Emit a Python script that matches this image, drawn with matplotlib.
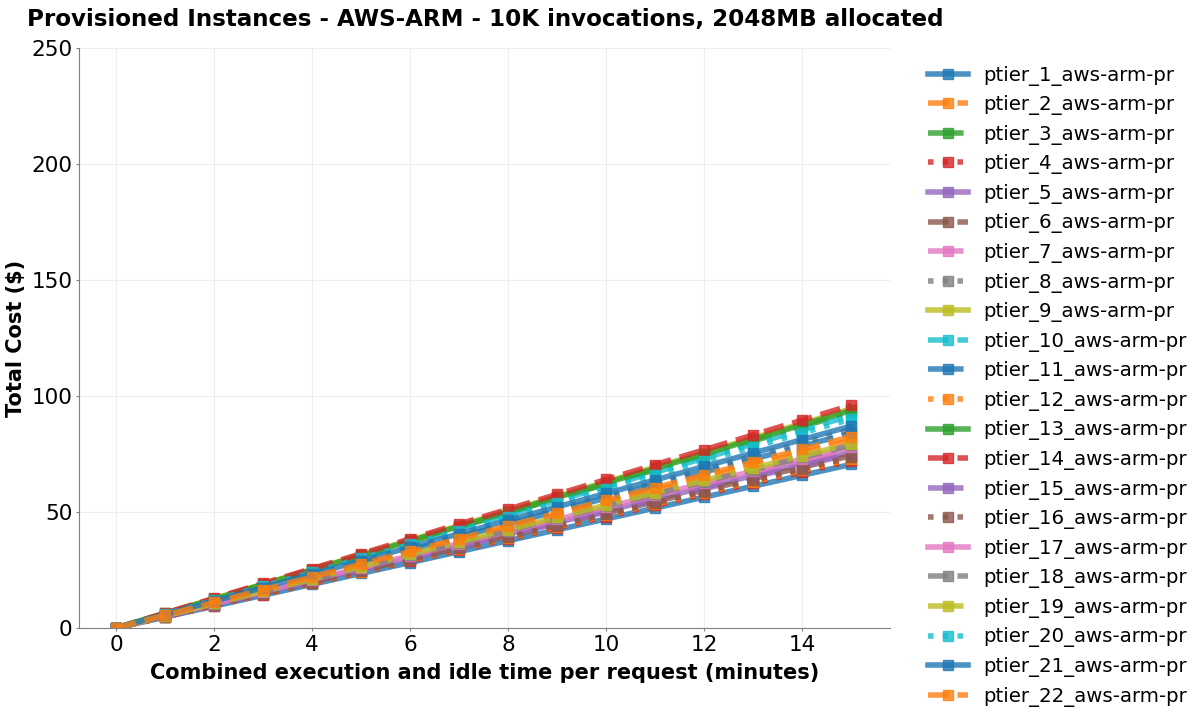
import matplotlib
matplotlib.use("Agg")
import matplotlib.pyplot as plt

# execution + idle time per request (minutes)
minutes = [0, 1, 2, 3, 4, 5, 6, 7, 8, 9, 10, 11, 12, 13, 14, 15]

tier_names = [f"ptier_{i}_aws-arm-pr" for i in range(1, 23)]

# total cost ($) per tier
tier_costs = [
    [0, 4.7, 9.4, 14.1, 18.8, 23.5, 28.2, 32.9, 37.6, 42.3, 47.0, 51.7, 56.4, 61.1, 65.8, 70.5],
    [0, 5.4, 10.8, 16.2, 21.6, 27.0, 32.4, 37.8, 43.2, 48.6, 54.0, 59.4, 64.8, 70.2, 75.6, 81.0],
    [0, 6.2, 12.4, 18.6, 24.8, 31.0, 37.2, 43.4, 49.6, 55.8, 62.0, 68.2, 74.4, 80.6, 86.8, 93.0],
    [0, 4.8, 9.6, 14.4, 19.2, 24.0, 28.8, 33.6, 38.4, 43.2, 48.0, 52.8, 57.6, 62.4, 67.2, 72.0],
    [0, 5.05, 10.1, 15.15, 20.2, 25.25, 30.3, 35.35, 40.4, 45.45, 50.5, 55.55, 60.6, 65.65, 70.7, 75.75],
    [0, 4.95, 9.9, 14.85, 19.8, 24.75, 29.7, 34.65, 39.6, 44.55, 49.5, 54.45, 59.4, 64.35, 69.3, 74.25],
    [0, 5.1, 10.2, 15.3, 20.4, 25.5, 30.6, 35.7, 40.8, 45.9, 51.0, 56.1, 61.2, 66.3, 71.4, 76.5],
    [0, 5.7, 11.4, 17.1, 22.8, 28.5, 34.2, 39.9, 45.6, 51.3, 57.0, 62.7, 68.4, 74.1, 79.8, 85.5],
    [0, 6.3, 12.6, 18.9, 25.2, 31.5, 37.8, 44.1, 50.4, 56.7, 63.0, 69.3, 75.6, 81.9, 88.2, 94.5],
    [0, 6.1, 12.2, 18.3, 24.4, 30.5, 36.6, 42.7, 48.8, 54.9, 61.0, 67.1, 73.2, 79.3, 85.4, 91.5],
    [0, 5.6, 11.2, 16.8, 22.4, 28.0, 33.6, 39.2, 44.8, 50.4, 56.0, 61.6, 67.2, 72.8, 78.4, 84.0],
    [0, 4.85, 9.7, 14.55, 19.4, 24.25, 29.1, 33.95, 38.8, 43.65, 48.5, 53.35, 58.2, 63.05, 67.9, 72.75],
    [0, 6.25, 12.5, 18.75, 25.0, 31.25, 37.5, 43.75, 50.0, 56.25, 62.5, 68.75, 75.0, 81.25, 87.5, 93.75],
    [0, 6.4, 12.8, 19.2, 25.6, 32.0, 38.4, 44.8, 51.2, 57.6, 64.0, 70.4, 76.8, 83.2, 89.6, 96.0],
    [0, 5.0, 10.0, 15.0, 20.0, 25.0, 30.0, 35.0, 40.0, 45.0, 50.0, 55.0, 60.0, 65.0, 70.0, 75.0],
    [0, 4.9, 9.8, 14.7, 19.6, 24.5, 29.4, 34.3, 39.2, 44.1, 49.0, 53.9, 58.8, 63.7, 68.6, 73.5],
    [0, 5.2, 10.4, 15.6, 20.8, 26.0, 31.2, 36.4, 41.6, 46.8, 52.0, 57.2, 62.4, 67.6, 72.8, 78.0],
    [0, 5.25, 10.5, 15.75, 21.0, 26.25, 31.5, 36.75, 42.0, 47.25, 52.5, 57.75, 63.0, 68.25, 73.5, 78.75],
    [0, 5.3, 10.6, 15.9, 21.2, 26.5, 31.8, 37.1, 42.4, 47.7, 53.0, 58.3, 63.6, 68.9, 74.2, 79.5],
    [0, 6.0, 12.0, 18.0, 24.0, 30.0, 36.0, 42.0, 48.0, 54.0, 60.0, 66.0, 72.0, 78.0, 84.0, 90.0],
    [0, 5.8, 11.6, 17.4, 23.2, 29.0, 34.8, 40.6, 46.4, 52.2, 58.0, 63.8, 69.6, 75.4, 81.2, 87.0],
    [0, 5.5, 11.0, 16.5, 22.0, 27.5, 33.0, 38.5, 44.0, 49.5, 55.0, 60.5, 66.0, 71.5, 77.0, 82.5],
]

line_styles = ["-", "--", "-.", ":"]
colors = plt.rcParams["axes.prop_cycle"].by_key()["color"]

fig, ax = plt.subplots(figsize=(12, 7.26), dpi=100)
fig.subplots_adjust(left=0.066, right=0.742, top=0.934, bottom=0.135)

for i, (name, costs) in enumerate(zip(tier_names, tier_costs)):
    ax.plot(
        minutes, costs,
        label=name,
        color=colors[i % len(colors)],
        linestyle=line_styles[i % len(line_styles)],
        linewidth=4, marker="s", markersize=6.5, alpha=0.8,
    )

ax.set_xlim(-0.75, 15.8)
ax.set_ylim(0, 250)
ax.set_xticks(range(0, 16, 2))
ax.set_title("Provisioned Instances - AWS-ARM - 10K invocations, 2048MB allocated",
             fontsize=16.6, fontweight="bold", pad=16)
ax.set_xlabel("Combined execution and idle time per request (minutes)",
              fontsize=15, fontweight="bold", labelpad=6)
ax.set_ylabel("Total Cost ($)", fontsize=15, fontweight="bold")
ax.tick_params(labelsize=15.5, color="gray", length=2.5, pad=2.5)
ax.grid(True, color="#eeeeee", linewidth=0.8)
ax.set_axisbelow(True)
for side in ["top", "right"]:
    ax.spines[side].set_visible(False)
for side in ["left", "bottom"]:
    ax.spines[side].set_color("gray")

ax.legend(loc="upper left", bbox_to_anchor=(1.025, 1.0), frameon=False,
          fontsize=14.2, labelspacing=0.485)

fig.savefig("out.png")
